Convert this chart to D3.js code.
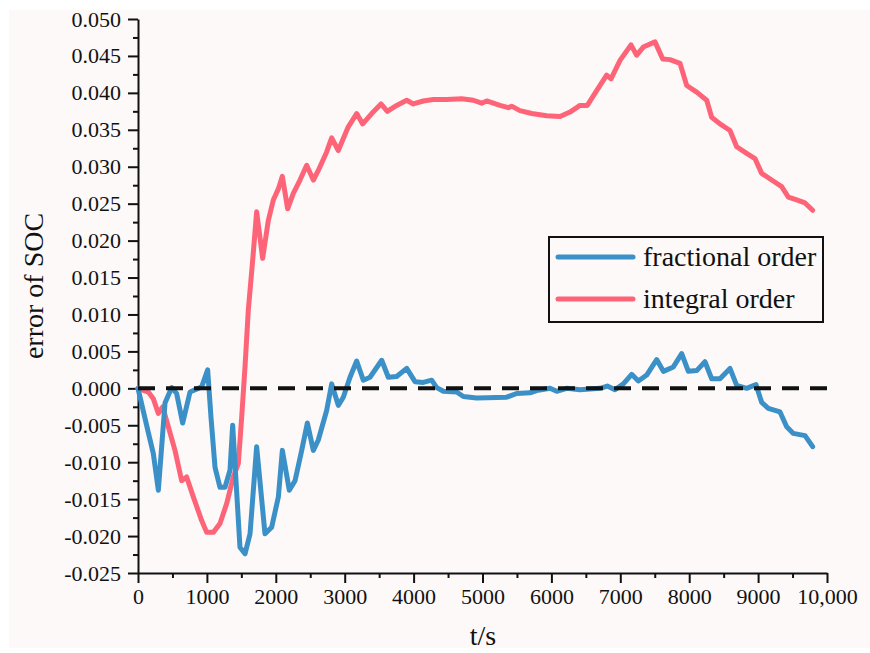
<!DOCTYPE html>
<html>
<head>
<meta charset="utf-8">
<script src="https://cdn.jsdelivr.net/npm/d3@7"></script>
<style>
    body { margin: 0; background: #fff; }
    text { font-family: "Liberation Serif", "DejaVu Serif", serif; fill: #111; }
</style>
</head>
<body>
<div id="chart"></div>
<script>
// fractional order SOC error (time in s, error)
const fracTime = [0, 150, 222, 295, 392, 489, 561, 648, 755, 924, 1011, 1060, 1118, 1190, 1263, 1335, 1374, 1480, 1553, 1626, 1722, 1843, 1940, 2037, 2095, 2196, 2279, 2376, 2458, 2545, 2617, 2738, 2811, 2907, 2980, 3077, 3174, 3270, 3367, 3537, 3633, 3754, 3900, 4020, 4141, 4262, 4335, 4432, 4625, 4722, 4916, 5351, 5496, 5689, 5786, 5980, 6077, 6222, 6415, 6705, 6811, 6923, 7044, 7165, 7262, 7383, 7528, 7625, 7770, 7891, 7988, 8109, 8229, 8326, 8447, 8592, 8689, 8834, 8970, 9052, 9148, 9318, 9415, 9511, 9681, 9792];
const fracError = [0, -0.006, -0.0088, -0.0138, -0.002, 0.0001, -0.0007, -0.0047, -0.0005, 0.0002, 0.0025, -0.004, -0.0107, -0.0134, -0.0134, -0.0111, -0.005, -0.0215, -0.0224, -0.0197, -0.0079, -0.0197, -0.0188, -0.0147, -0.0084, -0.0138, -0.0125, -0.0084, -0.0047, -0.0084, -0.007, -0.003, 0.0006, -0.0023, -0.0012, 0.0015, 0.0037, 0.0011, 0.0015, 0.0038, 0.0015, 0.0016, 0.0027, 0.0009, 0.0008, 0.0011, 0.0001, -0.0004, -0.0005, -0.0011, -0.0013, -0.0012, -0.0007, -0.0006, -0.0003, 0, -0.0004, 0, -0.0002, 0, 0.0003, -0.0002, 0.0006, 0.0019, 0.001, 0.0018, 0.0039, 0.0023, 0.0029, 0.0047, 0.0023, 0.0024, 0.0036, 0.0013, 0.0013, 0.0027, 0.0004, 0, 0.0005, -0.0019, -0.0027, -0.0032, -0.0052, -0.0061, -0.0064, -0.0079];

// integral order SOC error
const intTime = [0, 150, 222, 295, 358, 440, 537, 634, 706, 803, 924, 997, 1093, 1190, 1287, 1383, 1456, 1505, 1553, 1601, 1664, 1722, 1809, 1891, 1964, 2037, 2095, 2172, 2254, 2351, 2448, 2545, 2617, 2738, 2811, 2907, 3052, 3174, 3261, 3392, 3527, 3619, 3754, 3900, 3996, 4141, 4286, 4480, 4698, 4867, 4988, 5061, 5254, 5375, 5423, 5544, 5714, 5932, 6125, 6270, 6415, 6521, 6657, 6802, 6865, 6996, 7155, 7238, 7334, 7504, 7615, 7721, 7866, 7964, 8109, 8254, 8326, 8447, 8592, 8689, 8834, 8955, 9052, 9197, 9342, 9439, 9560, 9681, 9792];
const intError = [0, -0.0005, -0.0014, -0.0034, -0.0025, -0.0052, -0.0084, -0.0125, -0.012, -0.0147, -0.0179, -0.0195, -0.0195, -0.0183, -0.0156, -0.012, -0.0102, -0.0039, 0.0029, 0.0106, 0.0173, 0.0239, 0.0176, 0.0227, 0.0255, 0.027, 0.0287, 0.0243, 0.0264, 0.0282, 0.0302, 0.0282, 0.0295, 0.032, 0.0339, 0.0322, 0.0354, 0.0372, 0.0358, 0.0372, 0.0385, 0.0375, 0.0383, 0.039, 0.0385, 0.0389, 0.0391, 0.0391, 0.0392, 0.039, 0.0386, 0.0389, 0.0383, 0.038, 0.0382, 0.0376, 0.0372, 0.0369, 0.0368, 0.0374, 0.0383, 0.0383, 0.0403, 0.0424, 0.0419, 0.0444, 0.0465, 0.0451, 0.0462, 0.0469, 0.0446, 0.0445, 0.044, 0.041, 0.0401, 0.039, 0.0367, 0.0358, 0.0349, 0.0327, 0.0318, 0.0311, 0.0291, 0.0282, 0.0273, 0.0259, 0.0255, 0.0251, 0.0241];

const seriesNames = ["fractional order", "integral order"];
const xTicks = [0, 1000, 2000, 3000, 4000, 5000, 6000, 7000, 8000, 9000, 10000];
const yTicks = [-0.025, -0.02, -0.015, -0.01, -0.005, 0, 0.005, 0.01, 0.015, 0.02, 0.025, 0.03, 0.035, 0.04, 0.045, 0.05];

const colors = { frac: "#3a90c7", int: "#fe6478" };

const width = 870, height = 653;
const svg = d3.select("#chart").append("svg")
    .attr("width", width)
    .attr("height", height);

// light background panel
svg.append("rect")
    .attr("x", 9).attr("y", 10)
    .attr("width", width - 9).attr("height", 638)
    .attr("fill", "#fcf9f8");

const x = d3.scaleLinear().domain([0, 10000]).range([138, 827]);
const y = d3.scaleLinear().domain([-0.025, 0.05]).range([573, 19]);

// minor ticks
const xMinor = d3.range(500, 10000, 1000);
const yMinor = yTicks.slice(0, -1).map(d => d + 0.0025);

svg.append("g")
    .attr("transform", `translate(0,${y(-0.025)})`)
    .call(d3.axisBottom(x).tickValues(xMinor).tickSize(5).tickFormat(""))
    .call(g => g.select(".domain").remove());
svg.append("g")
    .attr("transform", `translate(${x(0)},0)`)
    .call(d3.axisLeft(y).tickValues(yMinor).tickSize(5).tickFormat(""))
    .call(g => g.select(".domain").remove());

const xAxis = svg.append("g")
    .attr("transform", `translate(0,${y(-0.025)})`)
    .call(d3.axisBottom(x).tickValues(xTicks).tickSize(10).tickSizeOuter(0)
        .tickFormat(d => d === 10000 ? "10,000" : d));
const yAxis = svg.append("g")
    .attr("transform", `translate(${x(0)},0)`)
    .call(d3.axisLeft(y).tickValues(yTicks).tickSize(10).tickSizeOuter(0)
        .tickFormat(d => (Math.abs(d) < 1e-9 ? 0 : d).toFixed(3)));

svg.selectAll(".tick line, .domain")
    .attr("stroke", "#111")
    .attr("stroke-width", 2);
xAxis.selectAll("text")
    .attr("font-size", 22)
    .attr("y", 15)
    .style("font-family", "Liberation Serif");
yAxis.selectAll("text")
    .attr("font-size", 22)
    .attr("x", -17)
    .style("font-family", "Liberation Serif");

// curves
const line = d3.line()
    .x(d => x(d[0]))
    .y(d => y(d[1]));

const fracData = fracTime.map((t, i) => [t, fracError[i]]);
const intData = intTime.map((t, i) => [t, intError[i]]);

svg.append("path")
    .datum(intData)
    .attr("d", line)
    .attr("fill", "none")
    .attr("stroke", colors.int)
    .attr("stroke-width", 5)
    .attr("stroke-linejoin", "round")
    .attr("stroke-linecap", "round");

svg.append("path")
    .datum(fracData)
    .attr("d", line)
    .attr("fill", "none")
    .attr("stroke", colors.frac)
    .attr("stroke-width", 5)
    .attr("stroke-linejoin", "round")
    .attr("stroke-linecap", "round");

// zero reference line
svg.append("path")
    .datum([[0, 0], [10000, 0]])
    .attr("d", line)
    .attr("stroke", "#111")
    .attr("stroke-width", 4)
    .attr("stroke-dasharray", "17,11");

// axis titles
svg.append("text")
    .attr("transform", "translate(43,286) rotate(-90)")
    .attr("text-anchor", "middle")
    .attr("font-size", 28)
    .text("error of SOC");
svg.append("text")
    .attr("x", 483).attr("y", 645)
    .attr("text-anchor", "middle")
    .attr("font-size", 28)
    .text("t/s");

// legend
const legend = svg.append("g");
legend.append("rect")
    .attr("x", 549).attr("y", 237)
    .attr("width", 274).attr("height", 85)
    .attr("fill", "none")
    .attr("stroke", "#111")
    .attr("stroke-width", 2);
[colors.frac, colors.int].forEach((c, i) => {
    const ly = 257 + i * 42;
    legend.append("line")
        .attr("x1", 558).attr("x2", 633)
        .attr("y1", ly).attr("y2", ly)
        .attr("stroke", c)
        .attr("stroke-width", 5)
        .attr("stroke-linecap", "round");
    legend.append("text")
        .attr("x", 643).attr("y", ly + 9)
        .attr("font-size", 28)
        .text(seriesNames[i]);
});
</script>
</body>
</html>
